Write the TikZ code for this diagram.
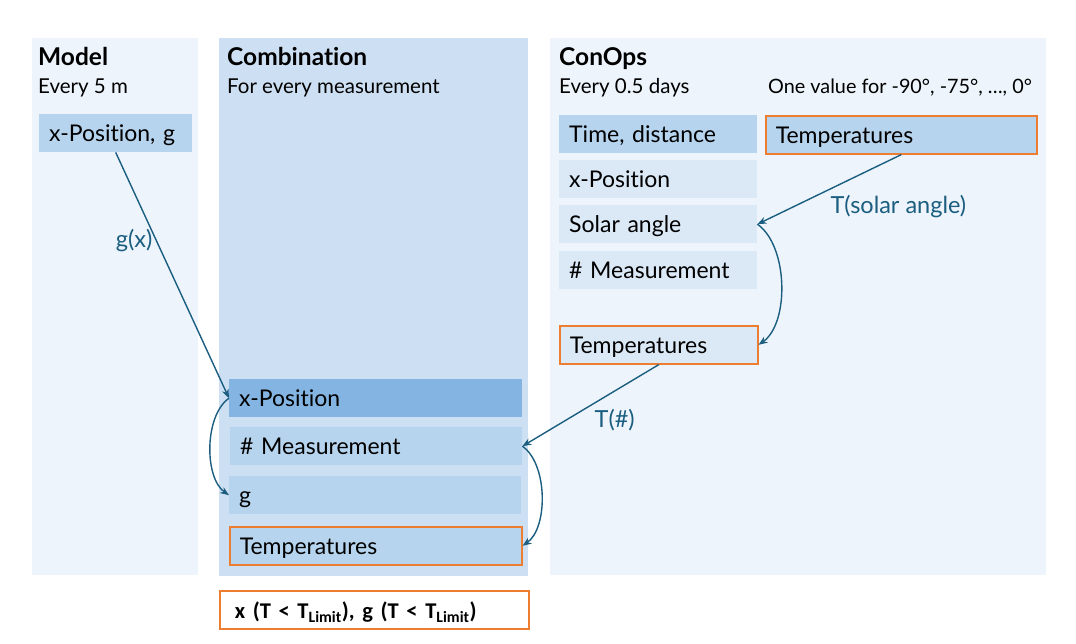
\documentclass[tikz,border=0pt]{standalone}
\usepackage{fontspec}
\setmainfont{Lato}[Ligatures=NoCommon]
\newfontfamily\calfont{Carlito}
\usetikzlibrary{arrows.meta}
\definecolor{panellight}{RGB}{237,244,251}
\definecolor{panelmid}{RGB}{205,224,243}
\definecolor{cellmid}{RGB}{182,212,238}
\definecolor{celllight}{RGB}{219,232,246}
\definecolor{celldark}{RGB}{132,181,226}
\definecolor{hotorange}{RGB}{237,125,49}
\definecolor{flowblue}{RGB}{27,94,128}
\tikzset{
  cell/.style={rectangle, anchor=north west, inner xsep=10pt, inner ysep=0pt, minimum height=38pt,
    text height=19pt, text depth=2pt, align=left, font=\fontsize{23}{27}\selectfont},
  hot/.style={draw=hotorange, line width=1.6pt},
  flow/.style={-{Stealth[length=9pt,width=7pt]}, draw=flowblue, line width=1.4pt},
  flowlabel/.style={text=flowblue, font=\fontsize{23.5}{27}\selectfont},
  paneltitle/.style={anchor=base west, inner sep=0pt, font=\bfseries\fontsize{24.5}{28}\selectfont},
  panelnote/.style={anchor=base west, inner sep=0pt, font=\fontsize{20.5}{24}\selectfont}
}
\begin{document}
\begin{tikzpicture}[x=1pt, y=-1pt]
  \useasboundingbox (0,0) rectangle (1076,643);
  \fill [panellight] (32,38) rectangle (198,575);
  \fill [panelmid] (219,38) rectangle (528,576);
  \fill [panellight] (550,38) rectangle (1046,575);
  \node [paneltitle] (modeltitle) at (38,65) {Model};
  \node [panelnote] (modelnote) at (38,93) {Every 5 m};
  \node [paneltitle] (combtitle) at (227,65) {Combination};
  \node [panelnote] (combnote) at (227,93) {For every measurement};
  \node [paneltitle] (opstitle) at (559,65) {ConOps};
  \node [panelnote] (opsnote) at (559,93) {Every 0.5 days};
  \node [panelnote, font=\fontsize{19.8}{24}\selectfont] (anglenote) at (768,93) {One value for -90°, -75°, \dots, 0°};
  \node [cell, fill=cellmid, text width=133] (mxg) at (39,114) {x-Position, g};
  \node [cell, fill=cellmid, text width=178] (otime) at (559,115) {Time, distance};
  \node [cell, fill=celllight, text width=178] (oxpos) at (559,160) {x-Position};
  \node [cell, fill=celllight, text width=178] (osolar) at (559,205) {Solar angle};
  \node [cell, fill=celllight, text width=178] (omeas) at (559,251) {\# Measurement};
  \node [cell, fill=celllight, hot, text width=178] (otemp) at (559,325) {Temperatures};
  \node [cell, fill=cellmid, hot, text width=251] (ttable) at (765,115) {Temperatures};
  \node [cell, fill=celldark, text width=273] (kxpos) at (229,379) {x-Position};
  \node [cell, fill=cellmid, text width=272] (kmeas) at (230,427) {\# Measurement};
  \node [cell, fill=cellmid, text width=272] (kg) at (229,476) {g};
  \node [cell, fill=cellmid, hot, text width=272] (ktemp) at (229,526) {Temperatures};
  \node [cell, fill=white, hot, inner xsep=15pt, text width=279] (result) at (219,590)
    {\calfont\bfseries\fontsize{22.5}{26}\selectfont x (T < T\textsubscript{Limit}), g (T < T\textsubscript{Limit})};
  \draw [flow] (mxg.south) -- (kxpos.west) node [flowlabel, pos=0.36, left] {g(x)};
  \draw [flow] (ttable.south) -- (osolar.east) node [flowlabel, pos=0.52, below right] {T(solar angle)};
  \draw [flow] (osolar.east) to [out=-35, in=35, looseness=0.8] (otemp.east);
  \draw [flow] (otemp.south) -- (kmeas.east) node [flowlabel, pos=0.5, below right] {T(\#)};
  \draw [flow] (kmeas.east) to [out=-35, in=35, looseness=0.8] (ktemp.east);
  \draw [flow] (kxpos.west) to [out=-145, in=145, looseness=0.8] (kg.west);
\end{tikzpicture}
\end{document}
